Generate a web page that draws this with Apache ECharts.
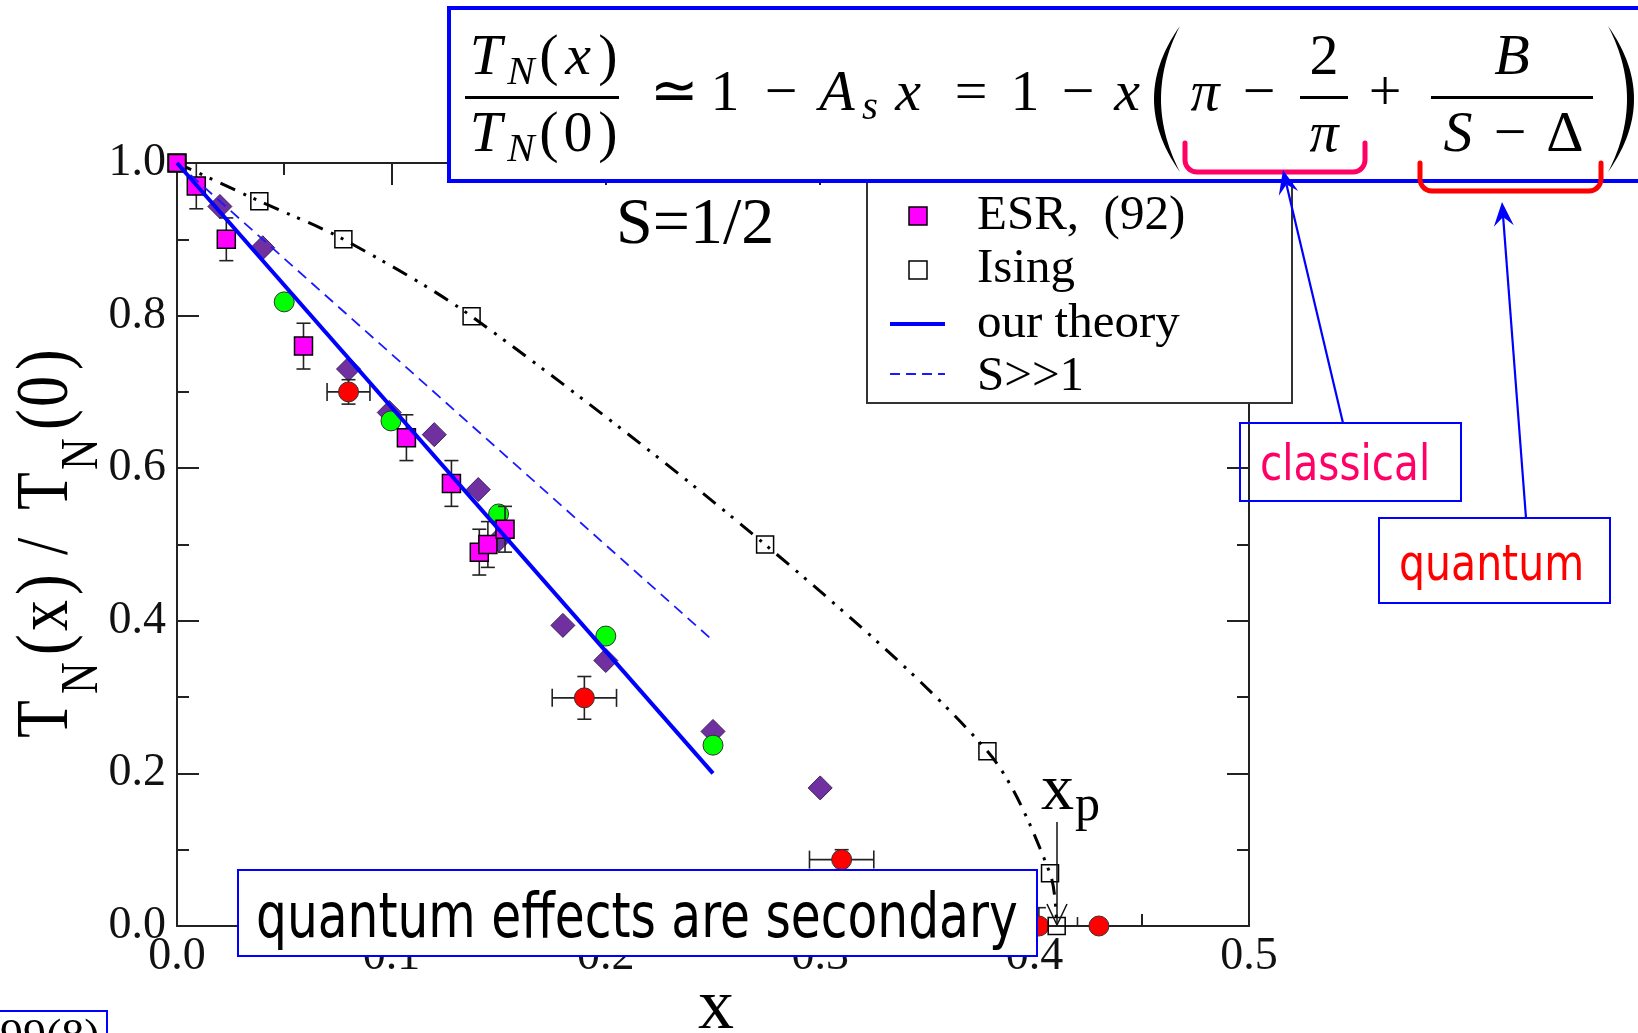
<!DOCTYPE html>
<html><head><meta charset="utf-8">
<script src="https://cdn.jsdelivr.net/npm/echarts/dist/echarts.min.js"></script>
<style>html,body{margin:0;padding:0;background:#fff}#c{width:1638px;height:1033px}</style>
</head><body><div id="c"></div><script>
// ---------------- data ----------------
const esrX    = [0.000, 0.009, 0.023, 0.059, 0.107, 0.128, 0.141, 0.145, 0.153];
const esrY    = [1.000, 0.970, 0.900, 0.760, 0.640, 0.580, 0.490, 0.500, 0.520];
const esrYErr = [0.000, 0.030, 0.028, 0.030, 0.030, 0.030, 0.030, 0.030, 0.030];

const diamondX = [0.020, 0.040, 0.080, 0.099, 0.120, 0.1405, 0.150, 0.180, 0.200, 0.250, 0.300];
const diamondY = [0.943, 0.889, 0.730, 0.673, 0.644, 0.572, 0.506, 0.394, 0.348, 0.255, 0.181];

const greenX = [0.050, 0.0998, 0.150, 0.200, 0.250];
const greenY = [0.818, 0.662, 0.540, 0.380, 0.237];

const redX    = [0.080, 0.190, 0.310, 0.402, 0.430];
const redY    = [0.700, 0.299, 0.087, 0.000, 0.000];
const redXErr = [0.010, 0.015, 0.015, 0.018, 0.000];
const redYErr = [0.016, 0.028, 0.013, 0.024, 0.000];

const isingX = [0.000, 0.0384, 0.0776, 0.1374, 0.2743, 0.378, 0.4072, 0.4103];
const isingY = [1.000, 0.950, 0.900, 0.799, 0.500, 0.229, 0.069, 0.000];

const theoryX = [0.000, 0.250];
const theoryY = [1.000, 0.200];
const largeSX = [0.000, 0.250];
const largeSY = [1.000, 0.374];

const legendLabels = ['ESR,  (92)', 'Ising', 'our theory', 'S>>1'];
const xRange = [0, 0.5], xStep = 0.1;
const yRange = [0, 1.0], yStep = 0.2;

// ---------------- helpers ----------------
const pairs = (xs, ys) => xs.map((x, i) => [x, ys[i]]);
const SERIF = '"Liberation Serif", "Times New Roman", serif';
const SANS = '"DejaVu Sans", Verdana, sans-serif';
const G = [];
function txt(str, x, base, size, o) {
  o = o || {};
  return {
    type: 'text', z: o.z || 120, silent: true, x: x, y: base - 0.27 * size,
    scaleX: o.sx || 1, scaleY: o.sy || 1,
    style: {
      text: str,
      font: (o.italic ? 'italic ' : '') + size + 'px ' + (o.family || SERIF),
      fill: o.color || '#000',
      align: o.align || 'left', textAlign: o.align || 'left',
      verticalAlign: 'middle', textVerticalAlign: 'middle'
    }
  };
}
function rect(x, y, w, h, stroke, lw, fill, z) {
  return {type: 'rect', z: z, silent: true, shape: {x: x, y: y, width: w, height: h},
    style: {fill: fill || 'none', stroke: stroke, lineWidth: lw}};
}
function line(x1, y1, x2, y2, stroke, lw, z, dash) {
  return {type: 'line', z: z, silent: true, shape: {x1: x1, y1: y1, x2: x2, y2: y2},
    style: {stroke: stroke, lineWidth: lw, lineDash: dash || null}};
}
function arrow(tail, tip, color, z) {
  const dx = tip[0] - tail[0], dy = tip[1] - tail[1], L = Math.hypot(dx, dy);
  const ux = dx / L, uy = dy / L, nx = -uy, ny = ux;
  const len = 24, half = 10, notch = 15;
  const bx = tip[0] - ux * len, by = tip[1] - uy * len;
  G.push(line(tail[0], tail[1], tip[0] - ux * notch, tip[1] - uy * notch, color, 2.2, z));
  G.push({type: 'polygon', z: z, silent: true, shape: {points: [
    tip, [bx + nx * half, by + ny * half], [tip[0] - ux * notch, tip[1] - uy * notch], [bx - nx * half, by - ny * half]
  ]}, style: {fill: color}});
}
function bracket(x1, x2, top, bottom, r, color, z) {
  const p = [[x1, top], [x1, bottom - r]];
  for (let i = 1; i <= 8; i++) { const t = i / 8 * Math.PI / 2; p.push([x1 + r - r * Math.cos(t), bottom - r + r * Math.sin(t)]); }
  p.push([x2 - r, bottom]);
  for (let i = 1; i <= 8; i++) { const t = i / 8 * Math.PI / 2; p.push([x2 - r + r * Math.sin(t), bottom - r + r * Math.cos(t)]); }
  p.push([x2, top]);
  G.push({type: 'polyline', z: z, silent: true, shape: {points: p},
    style: {stroke: color, lineWidth: 5, fill: null, lineJoin: 'round', lineCap: 'round'}});
}
function paren(xEnd, top, bottom, outerX, innerX, z) {
  const pts = [];
  const q = (t, p0, c, p2) => (1 - t) * (1 - t) * p0 + 2 * (1 - t) * t * c + t * t * p2;
  const cO = 2 * outerX - xEnd, cI = 2 * innerX - xEnd, cy = (top + bottom) / 2;
  for (let i = 0; i <= 30; i++) { const t = i / 30; pts.push([q(t, xEnd, cO, xEnd), q(t, top, cy, bottom)]); }
  for (let i = 30; i >= 0; i--) { const t = i / 30; pts.push([q(t, xEnd, cI, xEnd), q(t, top, cy, bottom)]); }
  G.push({type: 'polygon', z: z, silent: true, shape: {points: pts}, style: {fill: '#000'}});
}

// ---------------- annotations ----------------
G.push(txt('S=1/2', 616, 243, 66));

// legend (drawn)
G.push(rect(867, 140, 425, 263, '#333', 2, '#fff', 100));
G.push(rect(909, 207, 18, 18, '#000', 1.5, '#ff00ff', 101));
G.push(rect(909, 261, 18, 18, '#000', 1.5, '#fff', 101));
G.push(line(890, 324, 945, 324, '#0000ff', 4, 101));
G.push(line(890, 374, 945, 374, '#1a1aff', 2, 101, [10, 6]));
legendLabels.forEach((s, i) => G.push(txt(s, 977, [229, 282, 337, 390][i], 49, {z: 101})));

// formula box
G.push(rect(449, 8, 1260, 173, '#0000ff', 4, '#fff', 110));
const F = 58, FS = 41, FZ = 112;
const mainB = 110, numB = 74, denB = 151;
[[numB, 'x'], [denB, '0']].forEach(([b, arg]) => {
  G.push(txt('T', 486, b, F, {italic: true, align: 'center', z: FZ}));
  G.push(txt('N', 521, b + 10, FS, {italic: true, align: 'center', z: FZ}));
  G.push(txt('(', 549, b, F, {align: 'center', z: FZ}));
  G.push(txt(arg, 578, b, F, {italic: arg === 'x', align: 'center', z: FZ}));
  G.push(txt(')', 608, b, F, {align: 'center', z: FZ}));
});
G.push(rect(465, 96, 154, 3, 'none', 0, '#000', FZ));
G.push(txt('\u2243', 674, mainB, F, {align: 'center', z: FZ}));
G.push(txt('1', 725, mainB, F, {align: 'center', z: FZ}));
G.push(txt('\u2212', 781, mainB, F, {align: 'center', z: FZ}));
G.push(txt('A', 837, mainB, F, {italic: true, align: 'center', z: FZ}));
G.push(txt('s', 870, mainB + 9, FS, {italic: true, align: 'center', z: FZ}));
G.push(txt('x', 908, mainB, F, {italic: true, align: 'center', z: FZ}));
G.push(txt('=', 971, mainB, F, {align: 'center', z: FZ}));
G.push(txt('1', 1025, mainB, F, {align: 'center', z: FZ}));
G.push(txt('\u2212', 1078, mainB, F, {align: 'center', z: FZ}));
G.push(txt('x', 1127, mainB, F, {italic: true, align: 'center', z: FZ}));
paren(1180, 26, 172, 1154, 1161, FZ);
G.push(txt('\u03c0', 1205, mainB, F, {italic: true, align: 'center', z: FZ}));
G.push(txt('\u2212', 1259, mainB, F, {align: 'center', z: FZ}));
G.push(txt('2', 1324, numB, F, {align: 'center', z: FZ}));
G.push(rect(1300, 96, 48, 3, 'none', 0, '#000', FZ));
G.push(txt('\u03c0', 1324, denB, F, {italic: true, align: 'center', z: FZ}));
G.push(txt('+', 1385, mainB, F, {align: 'center', z: FZ}));
G.push(txt('B', 1512, numB, F, {italic: true, align: 'center', z: FZ}));
G.push(rect(1431, 96, 162, 3, 'none', 0, '#000', FZ));
G.push(txt('S', 1458, denB, F, {italic: true, align: 'center', z: FZ}));
G.push(txt('\u2212', 1510, denB, F, {align: 'center', z: FZ}));
G.push(txt('\u0394', 1565, denB, F, {align: 'center', z: FZ}));
paren(1608, 26, 172, 1634, 1627, FZ);

// brackets + arrows
bracket(1185, 1365, 143, 172, 12, '#ff0066', 115);
bracket(1420, 1601, 163, 191, 12, '#ff0000', 115);
arrow([1343, 423], [1283, 170], '#0000ff', 116);
arrow([1526, 518], [1502, 202], '#0000ff', 116);

// label boxes
G.push(rect(1240, 423, 221, 78, '#0000ff', 2, null, 105));
G.push(txt('classical', 1260, 481, 50, {family: SANS, color: '#ff0066', sx: 0.81, z: 105}));
G.push(rect(1379, 518, 231, 85, '#0000ff', 2, null, 105));
G.push(txt('quantum', 1399, 581, 50, {family: SANS, color: '#ff0000', sx: 0.82, z: 105}));
G.push(rect(238, 870, 799, 86, '#0000ff', 2, '#fff', 105));
G.push(txt('quantum effects are secondary', 256, 938, 62, {family: SANS, color: '#000', sx: 0.785, z: 106}));
G.push(rect(-5, 1011, 112, 40, '#0000ff', 2, '#fff', 105));
G.push(txt('99(8)', 0, 1051, 46, {z: 106}));

// x_p annotation
G.push(txt('x', 1041, 809, 66, {z: 104}));
G.push(txt('p', 1075, 820, 50, {z: 104}));
G.push(line(1057, 822, 1057, 925, '#111', 1.5, 104));
G.push({type: 'polyline', z: 104, silent: true, shape: {points: [[1047, 904], [1057, 925], [1067, 904]]},
  style: {stroke: '#111', lineWidth: 1.5, fill: null}});

// axis titles
G.push(txt('x', 716, 1029, 72, {align: 'center', z: 104}));
G.push({type: 'group', x: 68, y: 738, rotation: Math.PI / 2, scaleY: 1.18, z: 104, silent: true, children: [
  txt('T', 0, 0, 62), txt('N', 44, 25, 44), txt('(', 83, 0, 62), txt('x', 107, 0, 62), txt(')', 143, 0, 62),
  txt('/', 183, 0, 62),
  txt('T', 228, 0, 62), txt('N', 268, 25, 44), txt('(', 308, 0, 62), txt('0', 331, 0, 62), txt(')', 368, 0, 62)
]});

// ---------------- chart ----------------
function errSeries(xs, ys, xe, ye, z) {
  return {
    type: 'custom', z: z, silent: true, clip: true,
    data: xs.map((x, i) => [x, ys[i], xe ? xe[i] : 0, ye ? ye[i] : 0]),
    renderItem: function (params, api) {
      const x = api.value(0), y = api.value(1), ex = api.value(2), ey = api.value(3);
      const st = {stroke: '#222', lineWidth: 1.6};
      const ch = [];
      const L = (a, b, c, d) => ch.push({type: 'line', shape: {x1: a, y1: b, x2: c, y2: d}, style: st});
      if (ey > 0) {
        const a = api.coord([x, y + ey]), b = api.coord([x, y - ey]);
        L(a[0], a[1], b[0], b[1]); L(a[0] - 7, a[1], a[0] + 7, a[1]); L(b[0] - 7, b[1], b[0] + 7, b[1]);
      }
      if (ex > 0) {
        const a = api.coord([x - ex, y]), b = api.coord([x + ex, y]);
        L(a[0], a[1], b[0], b[1]); L(a[0], a[1] - 9, a[0], a[1] + 9); L(b[0], b[1] - 9, b[0], b[1] + 9);
      }
      return {type: 'group', children: ch};
    }
  };
}
function axisCommon(show, min, max, step) {
  return {
    type: 'value', min: min, max: max, interval: step,
    axisLine: {show: true, onZero: false, lineStyle: {color: '#222', width: 2}},
    axisTick: {show: true, inside: true, length: 22, lineStyle: {color: '#222', width: 2}},
    minorTick: {show: true, splitNumber: 2, length: 12, lineStyle: {color: '#222', width: 2}},
    splitLine: {show: false}, minorSplitLine: {show: false},
    axisLabel: {show: show, fontSize: 46, fontFamily: 'Liberation Serif', color: '#111',
      showMinLabel: true, showMaxLabel: true, hideOverlap: false, formatter: v => v.toFixed(1)}
  };
}
const xb = axisCommon(true, xRange[0], xRange[1], xStep); xb.position = 'bottom'; xb.axisLabel.margin = 8;
const xt = axisCommon(false, xRange[0], xRange[1], xStep); xt.position = 'top';
const yl = axisCommon(true, yRange[0], yRange[1], yStep); yl.position = 'left'; yl.axisLabel.margin = 11;
const yr = axisCommon(false, yRange[0], yRange[1], yStep); yr.position = 'right';

const chart = echarts.init(document.getElementById('c'), null, {renderer: 'canvas'});
chart.setOption({
  animation: false,
  backgroundColor: '#fff',
  grid: {left: 177, top: 163, width: 1072, height: 763, containLabel: false},
  xAxis: [xb, xt],
  yAxis: [yl, yr],
  series: [
    {type: 'line', name: 'Ising curve', data: pairs(isingX, isingY), symbol: 'none', smooth: 0.3,
      silent: true, z: 2, lineStyle: {color: '#000', width: 3, type: [16, 9, 3, 8, 3, 9]}},
    {type: 'scatter', name: 'diamonds', data: pairs(diamondX, diamondY), symbol: 'diamond', symbolSize: 24, z: 3,
      silent: true, itemStyle: {color: '#7030a0', borderColor: '#3a2060', borderWidth: 1, opacity: 1}},
    {type: 'scatter', name: 'green', data: pairs(greenX, greenY), symbol: 'circle', symbolSize: 20, z: 4,
      silent: true, itemStyle: {color: '#00ff00', borderColor: '#333', borderWidth: 1, opacity: 1}},
    errSeries(redX, redY, redXErr, redYErr, 5),
    {type: 'scatter', name: 'red', data: pairs(redX, redY), symbol: 'circle', symbolSize: 20, z: 6,
      silent: true, itemStyle: {color: '#ff0000', borderColor: '#333', borderWidth: 1, opacity: 1}},
    errSeries(esrX, esrY, null, esrYErr, 7),
    {type: 'scatter', name: legendLabels[0], data: pairs(esrX, esrY), symbol: 'rect', symbolSize: 18, z: 8,
      silent: true, itemStyle: {color: '#ff00ff', borderColor: '#000', borderWidth: 1.5, opacity: 1}},
    {type: 'scatter', name: legendLabels[1], data: pairs(isingX, isingY), symbol: 'rect', symbolSize: 17, z: 9,
      silent: true, itemStyle: {color: 'rgba(255,255,255,0)', borderColor: '#000', borderWidth: 1.5, opacity: 1}},
    {type: 'line', name: legendLabels[3], data: pairs(largeSX, largeSY), symbol: 'none', z: 10, silent: true,
      lineStyle: {color: '#1a1aff', width: 1.8, type: [11, 7]}},
    {type: 'line', name: legendLabels[2], data: pairs(theoryX, theoryY), symbol: 'none', z: 11, silent: true,
      lineStyle: {color: '#0000ff', width: 4}}
  ],
  graphic: {elements: G}
});
</script></body></html>
